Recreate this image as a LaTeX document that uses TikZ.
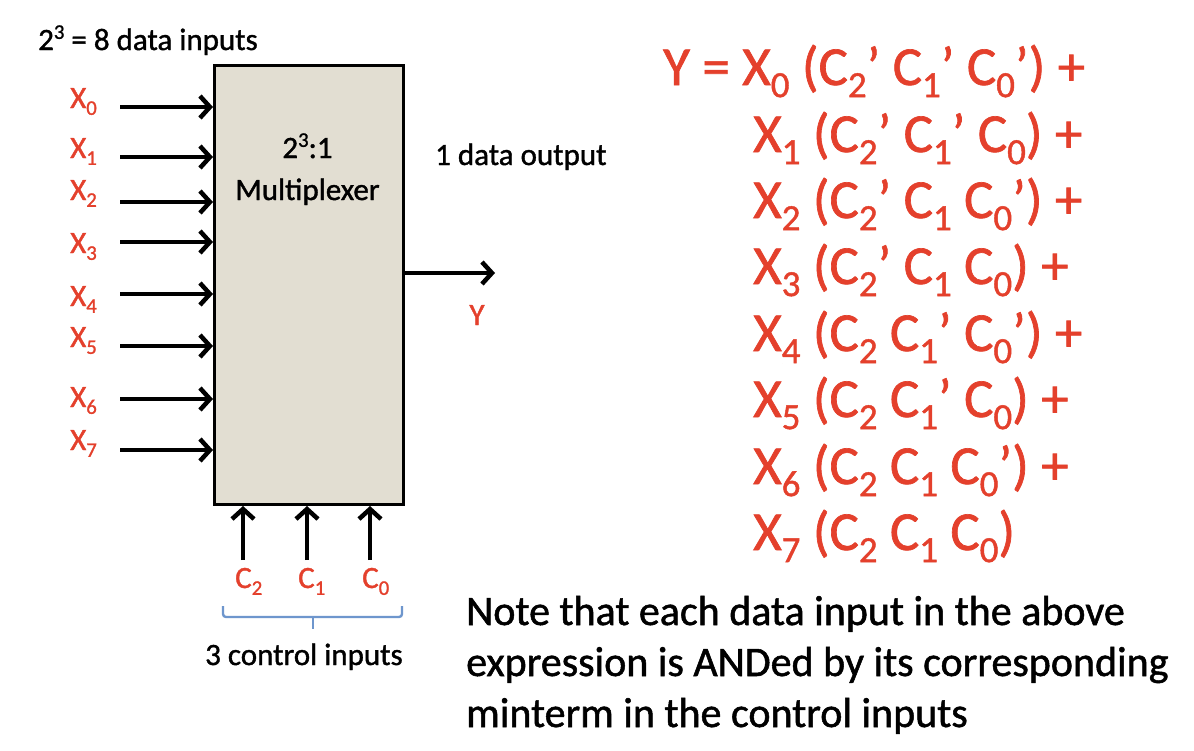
\documentclass[tikz,border=0pt]{standalone}
\usepackage{fontspec}
\usepackage{graphicx}
\setmainfont{Carlito}[BoldFont=Carlito, BoldFeatures={FakeBold=1.2}]
\usetikzlibrary{arrows.meta}
\definecolor{eqred}{RGB}{228,64,44}
\definecolor{boxfill}{RGB}{226,222,210}
\definecolor{braceblue}{RGB}{110,150,205}
\newcommand{\lowsub}[1]{\raisebox{-0.22em}{\scalebox{0.67}{#1}}}
\newcommand{\highsup}[1]{\raisebox{0.36em}{\scalebox{0.67}{#1}}}
\newcommand{\fsz}[1]{\fontsize{#1}{#1}\selectfont\bfseries}
\begin{document}
\begin{tikzpicture}[x=1pt,y=-1pt,
  lbl/.style={inner sep=0, font=\fsz{31}},
  redlbl/.style={lbl, text=eqred},
  eqline/.style={inner sep=0, anchor=base west, text=eqred, font=\fsz{55}},
  noteline/.style={inner sep=0, anchor=base west, font=\fsz{42}},
  arr/.style={line width=4.5, -{Straight Barb[length=10pt,width=22pt]}},
  muxbox/.style={draw, line width=3, fill=boxfill, inner sep=0},
  bracestyle/.style={draw=braceblue, line width=2.4, rounded corners=3}
]
\useasboundingbox (0,0) rectangle (1194,750);
\fill[white] (0,0) rectangle (1194,750);

% multiplexer box
\node[muxbox, minimum width=189, minimum height=439, anchor=north west] (mux) at (213,64) {};
\node[lbl, anchor=base] (t1) at (307.5,158) {2\highsup{3}:1};
\node[lbl, anchor=base] (t2) at (307.5,200) {Multiplexer};

% top label
\node[lbl, anchor=base west] (din) at (38,50) {2\highsup{3} = 8 data inputs};

% inputs
\foreach \i/\ay/\ly in {0/107/108, 1/157/158, 2/202/200, 3/242/253, 4/294/306, 5/346/347, 6/399/407, 7/450/450} {
  \node[redlbl, anchor=base west] (x\i) at (70,\ly) {X\lowsub{\i}};
  \coordinate (s\i) at (120,\ay);
  \draw[arr] (s\i) -- (mux.west |- s\i);
}

% output
\node[lbl, anchor=base west] (dout) at (435,165) {1 data output};
\coordinate (yend) at (495,273);
\draw[arr] (mux.east |- yend) -- (yend);
\node[redlbl, anchor=base] (ylbl) at (477,325) {Y};

% control inputs
\foreach \n/\cx/\lx in {2/243/235, 1/307/298, 0/370/362} {
  \coordinate (c\n) at (\cx,560);
  \draw[arr] (c\n) -- (mux.south -| c\n);
  \node[redlbl, anchor=base west] (cl\n) at (\lx,588) {C\lowsub{\n}};
}
\draw[bracestyle] (223,606) -- (223,617) -- (402,617) -- (402,606);
\draw[bracestyle, rounded corners=0] (313,617) -- (313,629);
\node[lbl, anchor=base west] (cin) at (205,665) {3 control inputs};

% equation
\node[eqline] (eq0) at (663,85) {Y = X\lowsub{0} (C\lowsub{2}’ C\lowsub{1}’ C\lowsub{0}’) +};
\node[eqline] (eq1) at (753,152) {X\lowsub{1} (C\lowsub{2}’ C\lowsub{1}’ C\lowsub{0}) +};
\node[eqline] (eq2) at (753,218) {X\lowsub{2} (C\lowsub{2}’ C\lowsub{1} C\lowsub{0}’) +};
\node[eqline] (eq3) at (753,284) {X\lowsub{3} (C\lowsub{2}’ C\lowsub{1} C\lowsub{0}) +};
\node[eqline] (eq4) at (753,351) {X\lowsub{4} (C\lowsub{2} C\lowsub{1}’ C\lowsub{0}’) +};
\node[eqline] (eq5) at (753,417) {X\lowsub{5} (C\lowsub{2} C\lowsub{1}’ C\lowsub{0}) +};
\node[eqline] (eq6) at (753,484) {X\lowsub{6} (C\lowsub{2} C\lowsub{1} C\lowsub{0}’) +};
\node[eqline] (eq7) at (753,550) {X\lowsub{7} (C\lowsub{2} C\lowsub{1} C\lowsub{0})};

% note
\node[noteline] (n1) at (466,625) {Note that each data input in the above};
\node[noteline] (n2) at (466,676) {expression is ANDed by its corresponding};
\node[noteline] (n3) at (466,727) {minterm in the control inputs};
\end{tikzpicture}
\end{document}
